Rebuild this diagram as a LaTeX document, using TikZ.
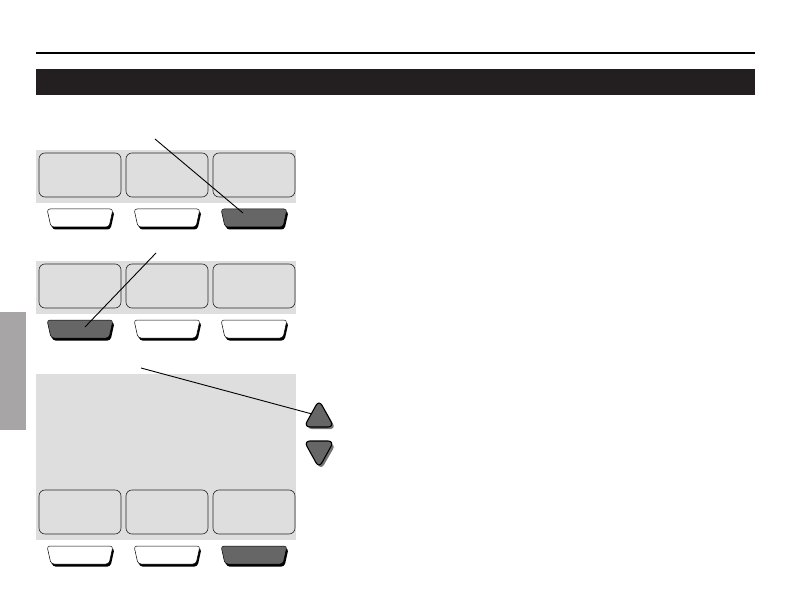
\documentclass[tikz,border=0pt]{standalone}
\begin{document}
\begin{tikzpicture}[x=1pt,y=-1pt,
  screen/.style={draw=black!85,line width=0.6pt,fill=panelgray,rounded corners=6pt},
  btnshadow/.style={fill=black,rounded corners=3pt},
  btnbody/.style={draw=black,line width=0.5pt,rounded corners=3pt},
  keyshadow/.style={fill=black!55,rounded corners=6pt},
  keybody/.style={fill=dark,draw=black,line width=1.1pt,rounded corners=6pt},
  pointer/.style={draw=black,line width=0.9pt}]
\definecolor{panelgray}{HTML}{DEDEDE}
\definecolor{band}{HTML}{231F20}
\definecolor{tab}{HTML}{A7A5A5}
\definecolor{dark}{HTML}{666666}
\useasboundingbox (0,0) rectangle (792,612);
% header
\draw[line width=1.2pt,black] (36,53) -- (755,53);
\fill[band] (36,69) rectangle (755,95);
% side tab
\fill[tab] (0,312) rectangle (26,430);
% button macro
\newcommand\mybtn[3]{%
  \path[btnshadow] (#1+1.5,#2+2.5) -- (#1+67.5,#2+2.5) -- (#1+63.5,#2+20.5) -- (#1+5.5,#2+20.5) -- cycle;
  \path[btnbody,fill=#3] (#1,#2) -- (#1+66,#2) -- (#1+62,#2+18) -- (#1+4,#2+18) -- cycle;}
\newcommand\myscreens[1]{%
  \path[screen] (39,#1) rectangle (121,#1+44);
  \path[screen] (126,#1) rectangle (208,#1+44);
  \path[screen] (213,#1) rectangle (295,#1+44);}
% panel 1
\fill[panelgray] (36,150) rectangle (296,203);
\myscreens{153}
\mybtn{47}{209}{white}
\mybtn{134}{209}{white}
\mybtn{221}{209}{dark}
% panel 2
\fill[panelgray] (36,261) rectangle (296,314);
\myscreens{264}
\mybtn{47}{320}{dark}
\mybtn{134}{320}{white}
\mybtn{221}{320}{white}
% panel 3
\fill[panelgray] (36,374) rectangle (296,540);
\myscreens{490}
\mybtn{47}{546}{white}
\mybtn{134}{546}{white}
\mybtn{221}{546}{dark}
% arrow keys
\path[keyshadow] (321,403) -- (336,429) -- (306,429) -- cycle;
\path[keybody] (319,400) -- (334,427) -- (304,427) -- cycle;
\path[keyshadow] (306,444) -- (336,444) -- (321,470) -- cycle;
\path[keybody] (304,441) -- (334,441) -- (319,468) -- cycle;
% pointers
\coordinate (p1s) at (155,139);
\coordinate (p1e) at (243,213);
\coordinate (p2s) at (156,253);
\coordinate (p2e) at (85,327);
\coordinate (p3s) at (141,368);
\coordinate (p3e) at (312,414);
\draw[pointer] (p1s) -- (p1e);
\draw[pointer] (p2s) -- (p2e);
\draw[pointer] (p3s) -- (p3e);
\end{tikzpicture}
\end{document}
